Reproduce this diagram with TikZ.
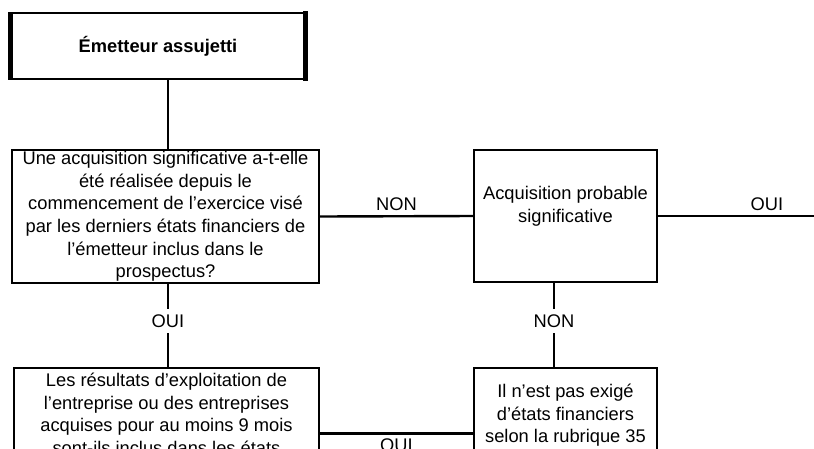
\documentclass[tikz,border=0pt]{standalone}
\usepackage{fontspec}
\setmainfont{Liberation Sans}
\begin{document}
\begin{tikzpicture}[x=1pt,y=-1pt,
  font=\fontsize{18.3}{22.7}\selectfont,
  box/.style={draw,line width=2pt,align=center,inner sep=0pt},
  link/.style={line width=2.4pt},
  gap/.style={fill=white,inner xsep=2pt,inner ysep=5.5pt}]
\useasboundingbox (0,0) rectangle (814,448);
\clip (0,0) rectangle (814,448);
    % Boxes
\node[box,line width=1.8pt,minimum width=293pt,minimum height=66pt,font=\bfseries\fontsize{18.3}{22.7}\selectfont] (emet) at (158,46) {Émetteur assujetti};
\draw[line width=5pt,shorten <=-0.9pt,shorten >=-0.9pt] (emet.north west) -- (emet.south west) (emet.north east) -- (emet.south east);
\node[box,minimum width=307pt,minimum height=133pt] (quest) at (165.5,216.5)
  {Une acquisition significative a-t-elle\\été réalisée depuis le\\commencement de l’exercice visé\\par les derniers états financiers de\\l’émetteur inclus dans le\\prospectus?};
\node[box,minimum width=183pt,minimum height=132pt,
  label={[name=acqtext,align=center,yshift=10pt]center:Acquisition probable\\significative}] (acq) at (565.5,216) {};
\node[box,anchor=north,minimum width=305pt,inner ysep=5pt] (result) at (166.5,367)
  {Les résultats d’exploitation de\\l’entreprise ou des entreprises\\acquises pour au moins 9 mois\\sont-ils inclus dans les états};
\node[box,anchor=north,minimum width=183pt,inner ysep=16pt] (nexige) at (565.5,367)
  {Il n’est pas exigé\\d’états financiers\\selon la rubrique 35};
    % Connectors
\coordinate (ouiend) at ([xshift=218pt]acq.east);
\draw[link] ([xshift=10pt]emet.south) -- ([xshift=10pt]emet.south |- quest.north);
\draw[link] ([xshift=2.5pt]quest.south) -- node[gap,pos=0.45] {OUI} ([xshift=2.5pt]quest.south |- result.north);
\draw[link] (quest.east) -- node[above,inner sep=4pt] {NON} (acq.west);
\draw[link] (acq.east) -- node[above,inner sep=4pt] {OUI} (ouiend);
\draw[link] ([xshift=-11.5pt]acq.south) -- node[gap,pos=0.45] {NON} ([xshift=-11.5pt]acq.south |- nexige.north);
\draw[link] ([yshift=-66.5pt]result.north east) -- node[below,inner sep=4pt] {OUI} ([yshift=-66.5pt]nexige.north west);
\end{tikzpicture}
\end{document}
